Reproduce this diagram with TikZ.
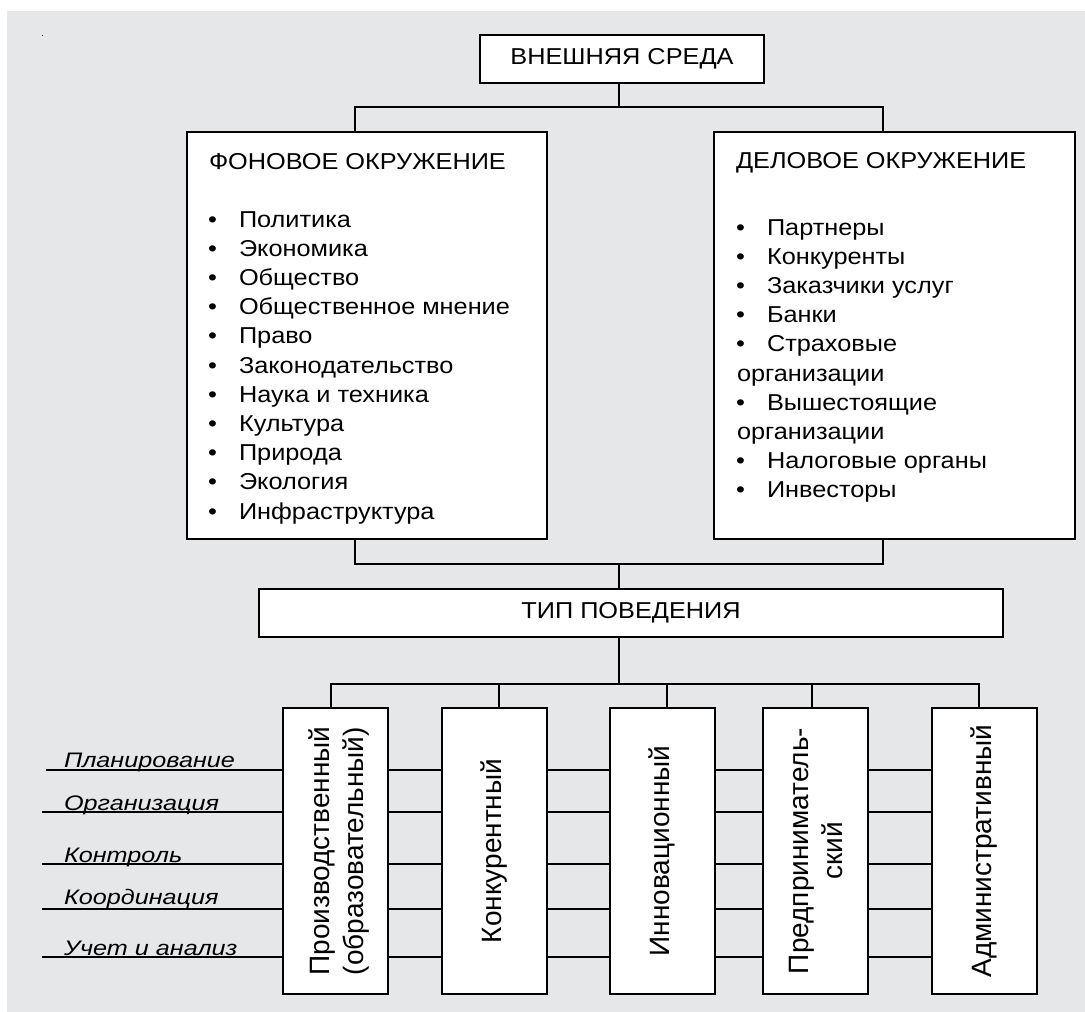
\documentclass[tikz,border=0pt]{standalone}
\usepackage{fontspec}
\setmainfont{Liberation Sans}
\newfontfamily\wide[FakeStretch=1.1]{Liberation Sans}
\newfontfamily\lab[FakeStretch=1.2]{Liberation Sans}
\usetikzlibrary{calc}
\definecolor{bg}{RGB}{230,231,233}
\begin{document}
\begin{tikzpicture}[x=1pt,y=-1pt,line width=2pt,
  box/.style={draw=black,fill=white,line width=2pt,inner sep=0pt},
  bigtxt/.style={font=\wide\fontsize{23}{29}\selectfont},
  item/.style={anchor=base west,inner sep=0pt,font=\wide\fontsize{23}{29}\selectfont},
  vbox/.style={box,minimum width=105,minimum height=286},
  vtxt/.style={rotate=90,align=center,font=\fontsize{28}{34}\selectfont},
  lbl/.style={anchor=base west,inner sep=0pt,font=\lab\itshape\fontsize{21}{24}\selectfont},
  conn/.style={line width=2pt}]
\useasboundingbox (0,0) rectangle (1085,1012);
\fill[bg] (7,11) rectangle (1085,1012);
\fill (41.5,34.5) rectangle (43,35.5);

% boxes
\node[box,bigtxt,minimum width=284,minimum height=48] (ext) at (622,59) {ВНЕШНЯЯ СРЕДА};
\node[box,minimum width=360,minimum height=407] (fon) at (367,335.5) {};
\node[box,minimum width=361,minimum height=407] (del) at (894.5,335.5) {};
\node[box,bigtxt,minimum width=744,minimum height=48] (tip) at (631,613) {ТИП ПОВЕДЕНИЯ};

\node[vbox] (b1) at (335.5,851) {};
\node[vbox] (b2) at (494.5,851) {};
\node[vbox] (b3) at (662,851) {};
\node[vbox] (b4) at (815.5,851) {};
\node[vbox] (b5) at (984,851) {};
\node[vtxt] (t1) at ([xshift=4pt]b1.center) {Производственный\\(образовательный)};
\node[vtxt] (t2) at (b2) {Конкурентный};
\node[vtxt] (t3) at (b3) {Инновационный};
\node[vtxt] (t4) at (b4) {Предприниматель-\\ский};
\node[vtxt] (t5) at (b5) {Административный};

% left box text
\node[item] (fonT) at (208,169) {ФОНОВОЕ ОКРУЖЕНИЕ};
\foreach \t [count=\i from 0] in {Политика,Экономика,Общество,Общественное мнение,Право,Законодательство,Наука и техника,Культура,Природа,Экология,Инфраструктура}{
  \node[item] (fb\i) at (207,227+29.2*\i) {•};
  \node[item] (fi\i) at (238,227+29.2*\i) {\t};
}
% right box text
\node[item] (delT) at (735,168) {ДЕЛОВОЕ ОКРУЖЕНИЕ};
\foreach \t/\b [count=\i from 0] in {Партнеры/1,Конкуренты/1,Заказчики услуг/1,Банки/1,Страховые/1,организации/0,Вышестоящие/1,организации/0,Налоговые органы/1,Инвесторы/1}{
  \ifnum\b=1
    \node[item] (db\i) at (735,235+29.2*\i) {•};
    \node[item] (di\i) at (766,235+29.2*\i) {\t};
  \else
    \node[item] (di\i) at (736,235+29.2*\i) {\t};
  \fi
}

% connectors top
\coordinate (j1) at (619,107);
\coordinate (j1L) at (355,107);
\coordinate (j1R) at (883,107);
\draw[conn] (ext.south -| j1) -- (j1);
\draw[conn] (fon.north -| j1L) -- (j1L) -- (j1R) -- (del.north -| j1R);
\coordinate (j2) at (619,564);
\coordinate (j2L) at (355,564);
\coordinate (j2R) at (883,564);
\draw[conn] (fon.south -| j2L) -- (j2L) -- (j2R) -- (del.south -| j2R);
\draw[conn] (j2) -- (tip.north -| j2);
\coordinate (j3) at (619,684);
\coordinate (j3a) at (331,684);
\coordinate (j3b) at (499,684);
\coordinate (j3c) at (667,684);
\coordinate (j3d) at (812,684);
\coordinate (j3e) at (979,684);
\draw[conn] (tip.south -| j3) -- (j3);
\draw[conn] (b1.north -| j3a) -- (j3a) -- (j3e) -- (b5.north -| j3e);
\draw[conn] (j3b) -- (b2.north -| j3b);
\draw[conn] (j3c) -- (b3.north -| j3c);
\draw[conn] (j3d) -- (b4.north -| j3d);

% rows
\coordinate (r1) at (46,770);
\coordinate (r2) at (42,812);
\coordinate (r3) at (42,864);
\coordinate (r4) at (42,909);
\coordinate (r5) at (42,957);
\foreach \r in {r1,r2,r3,r4,r5}{
  \draw[conn] (\r) -- (b1.west |- \r);
  \draw[conn] (b1.east |- \r) -- (b2.west |- \r);
  \draw[conn] (b2.east |- \r) -- (b3.west |- \r);
  \draw[conn] (b3.east |- \r) -- (b4.west |- \r);
  \draw[conn] (b4.east |- \r) -- (b5.west |- \r);
}
\node[lbl] (l1) at (63,767) {Планирование};
\node[lbl] (l2) at (63,810) {Организация};
\node[lbl] (l3) at (63,862) {Контроль};
\node[lbl] (l4) at (63,904) {Координация};
\node[lbl] (l5) at (63,955) {Учет и анализ};
\end{tikzpicture}
\end{document}
